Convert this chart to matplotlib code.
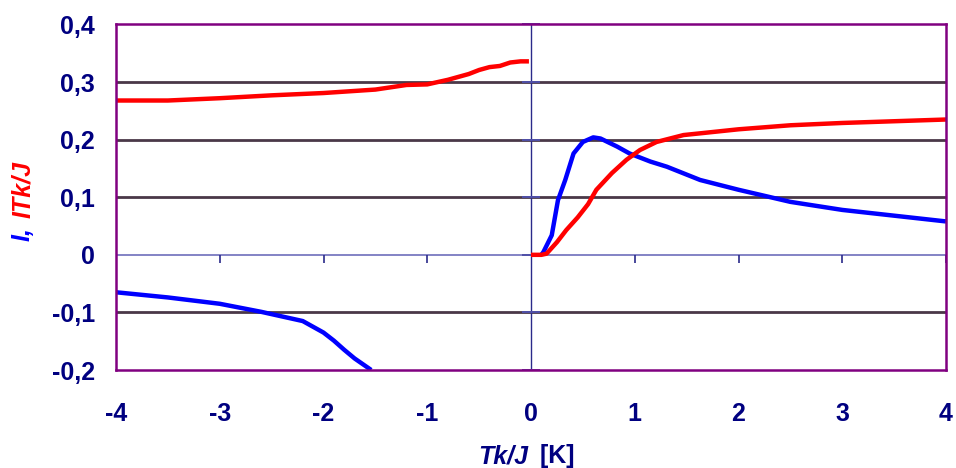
import matplotlib
matplotlib.use("Agg")
import matplotlib.pyplot as plt
from matplotlib.markers import TICKDOWN

plt.rcParams['font.family'] = ['Liberation Sans', 'DejaVu Sans']

# Red curve: ITk/J
red_neg_x = [-4.0, -3.5, -3.0, -2.5, -2.0, -1.5, -1.2, -1.0, -0.8, -0.6, -0.5, -0.4, -0.3, -0.2, -0.1, -0.02]
red_neg_y = [0.268, 0.268, 0.272, 0.277, 0.281, 0.287, 0.295, 0.296, 0.304, 0.314, 0.321, 0.326, 0.328, 0.334, 0.336, 0.336]
red_pos_x = [0.0, 0.1, 0.15, 0.25, 0.34, 0.45, 0.55, 0.63, 0.78, 0.92, 1.05, 1.21, 1.47, 1.63, 2.0, 2.5, 3.0, 3.5, 4.0]
red_pos_y = [0.0, 0.0, 0.002, 0.022, 0.043, 0.065, 0.088, 0.113, 0.142, 0.165, 0.182, 0.196, 0.208, 0.211, 0.218, 0.225, 0.229, 0.232, 0.235]

# Blue curve: I
blue_neg_x = [-4.0, -3.5, -3.0, -2.6, -2.2, -2.0, -1.9, -1.8, -1.7, -1.54]
blue_neg_y = [-0.065, -0.074, -0.085, -0.099, -0.115, -0.135, -0.149, -0.165, -0.180, -0.200]
blue_pos_x = [0.1, 0.12, 0.2, 0.26, 0.33, 0.41, 0.5, 0.6, 0.67, 0.83, 0.95, 1.15, 1.31, 1.63, 2.0, 2.5, 3.0, 3.5, 4.0]
blue_pos_y = [0.0, 0.005, 0.034, 0.095, 0.130, 0.176, 0.196, 0.204, 0.202, 0.188, 0.176, 0.162, 0.153, 0.130, 0.113, 0.092, 0.078, 0.068, 0.058]

x_ticks = [-4, -3, -2, -1, 0, 1, 2, 3, 4]
x_ticklabels = ['-4', '-3', '-2', '-1', '0', '1', '2', '3', '4']
y_ticks = [-0.2, -0.1, 0.0, 0.1, 0.2, 0.3, 0.4]
y_ticklabels = ['-0,2', '-0,1', '0', '0,1', '0,2', '0,3', '0,4']
grid_levels = [-0.1, 0.1, 0.2, 0.3]

W, H = 956, 468
fig = plt.figure(figsize=(W / 100, H / 100), dpi=100)
ax = fig.add_axes([116 / W, 1 - 370 / H, 830 / W, 345.5 / H])

navy = '#000080'
purple = '#800080'
fs = 18

ax.set_xlim(-4, 4)
ax.set_ylim(-0.2, 0.4)

for g in grid_levels:
    ax.axhline(g, color='#4a3848', lw=2.0, zorder=1)

# x axis at y=0 and y axis at x=0
ax.axhline(0, color='#7a7ac0', lw=1.3, zorder=1)
ax.axvline(0, color='#2a2a8a', lw=1.0, zorder=1)
ax.plot([0] * len(y_ticks), y_ticks, linestyle='none', marker='_',
        markersize=12.5, markeredgewidth=1.4, color='#5050a8', zorder=2, clip_on=False)
ax.plot([t for t in x_ticks if t != 0], [0] * (len(x_ticks) - 1), linestyle='none',
        marker=TICKDOWN, markersize=6, markeredgewidth=1.2, color='#2a2a8a', zorder=2)

lw = 3.2
ax.plot(red_neg_x, red_neg_y, color='#ff0000', lw=lw, zorder=3, solid_capstyle='butt')
ax.plot(red_pos_x, red_pos_y, color='#ff0000', lw=lw, zorder=4, solid_capstyle='butt')
ax.plot(blue_neg_x, blue_neg_y, color='#0000ff', lw=lw, zorder=3, solid_capstyle='butt')
ax.plot(blue_pos_x, blue_pos_y, color='#0000ff', lw=lw, zorder=3, solid_capstyle='butt')

for s in ax.spines.values():
    s.set_color(purple)
    s.set_linewidth(1.8)
    s.set_zorder(5)

ax.set_xticks(x_ticks)
ax.set_xticklabels(x_ticklabels)
ax.set_yticks(y_ticks)
ax.set_yticklabels(y_ticklabels)
ax.tick_params(axis='x', length=0, pad=23, labelsize=fs, labelcolor=navy)
ax.tick_params(axis='y', length=0, pad=15, labelsize=fs, labelcolor=navy)
for lab in ax.get_xticklabels() + ax.get_yticklabels():
    lab.set_fontweight('bold')

# x label
fig.text(528 / W, 1 - 456 / H, 'Tk/J', ha='right', va='center', fontsize=fs,
         fontweight='bold', fontstyle='italic', color=navy)
fig.text(533 / W, 1 - 456 / H, ' [K]', ha='left', va='center', fontsize=fs,
         fontweight='bold', color=navy)

# y label (two colours)
fig.text(23 / W, 1 - 241 / H, 'I,', rotation=90, ha='center', va='bottom', fontsize=fs,
         fontweight='bold', fontstyle='italic', color='#0000ff')
fig.text(23 / W, 1 - 218 / H, 'ITk/J', rotation=90, ha='center', va='bottom', fontsize=fs,
         fontweight='bold', fontstyle='italic', color='#ff0000')

fig.savefig('out.png', dpi=100)
